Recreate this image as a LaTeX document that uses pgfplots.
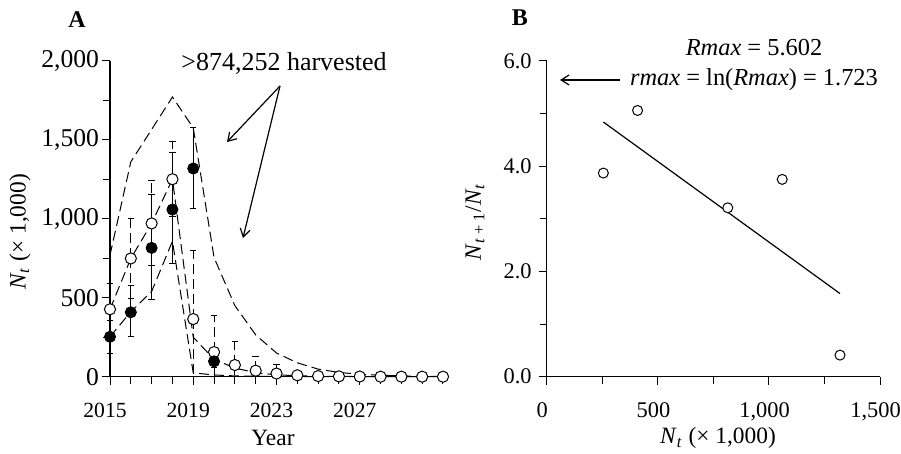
\documentclass[border=0pt]{standalone}
\usepackage{fontspec}
\setmainfont{Liberation Serif}
\usepackage{pgfplots}
\usepackage{pgfplotstable}
\pgfplotsset{compat=1.18}
\usetikzlibrary{arrows.meta}

% open circles: year, value, +err, -err
\pgfplotstableread{
year val ep em
2015 427 165 165
2016 749 253 253
2017 971 269 269
2018 1251 236 236
2019 365 437 365
2020 156 234 156
2021 74 150 74
2022 38 89 38
2023 20 60 20
2024 9 25 9
2025 4 0 0
2026 2 0 0
2027 1 0 0
2028 0 0 0
2029 0 0 0
2030 0 0 0
2031 0 0 0
}\opendata

% filled circles
\pgfplotstableread{
year val ep em
2015 253 100 103
2016 408 172 155
2017 816 340 330
2018 1059 361 339
2019 1319 257 251
2020 97 40 40
}\filldata

% dashed model curves
\pgfplotstableread{
year up mid low
2015 770 427 253
2016 1361 749 411
2017 1566 971 540
2018 1772 1251 858
2019 1576 250 24
2020 755 110 11
2021 450 55 5
2022 265 25 3
2023 150 12 2
2024 88 6 1
2025 48 3 0
2026 27 2 0
2027 15 1 0
2028 9 0 0
2029 5 0 0
2030 3 0 0
2031 2 0 0
}\model

\newcommand\lab{\fontsize{11.7}{14}\selectfont}

\begin{document}
\fontsize{13}{15}\selectfont
\begin{tikzpicture}
\useasboundingbox (0pt,0pt) rectangle (450.5pt,227pt);
\pgfplotsset{
  every axis/.append style={
    scale only axis, axis x line*=bottom, axis y line*=left,
    tick align=outside, major tick length=4pt, minor tick length=3.5pt,
    clip=false, tick style={black, line width=0.5pt},
    axis line style={line width=0.6pt},
    /pgf/number format/assume math mode=true,
  },
  mdl/.style={no marks, line width=0.5pt, dash pattern=on 5pt off 2.5pt},
}

% panel A
\begin{axis}[
  at={(55pt,38.65pt)}, anchor=south west,
  width=166.5pt, height=157.85pt,
  xmin=2015, xmax=2031, ymin=0, ymax=2000,
  xtick={2015,2019,2023,2027}, minor xtick={2016,...,2031},
  ytick={0,500,1000,1500,2000}, minor ytick={250,750,1250,1750},
  xticklabel style={font=\fontsize{10.8}{13}\selectfont, yshift=-4.5pt, xshift=-2.5pt,
    /pgf/number format/1000 sep={}},
  yticklabel style={font=\fontsize{12.8}{15}\selectfont, xshift=3pt,
    /pgf/number format/1000 sep={,}},
]
\addplot[mdl] table[x=year,y=up] {\model};
\addplot[mdl] table[x=year,y=mid] {\model};
\addplot[mdl] table[x=year,y=low] {\model};
\addplot[only marks, mark=*, mark size=2.8pt,
  mark options={fill=white, draw=black, line width=0.5pt},
  error bars/.cd, y dir=both, y explicit,
  error bar style={line width=0.5pt, dash pattern=on 5pt off 2.5pt},
  error mark options={rotate=90, mark size=1.6pt, solid, line width=0.5pt}]
  table[x=year, y=val, y error plus=ep, y error minus=em] {\opendata};
\addplot[only marks, mark=*, mark size=2.8pt,
  mark options={fill=black, draw=black},
  error bars/.cd, y dir=both, y explicit,
  error bar style={line width=0.5pt, solid},
  error mark options={rotate=90, mark size=1.6pt, line width=0.5pt}]
  table[x=year, y=val, y error plus=ep, y error minus=em] {\filldata};
\end{axis}

% panel B
\begin{axis}[
  at={(273.35pt,38.65pt)}, anchor=south west,
  width=166.65pt, height=157.85pt,
  xmin=0, xmax=1500, ymin=0, ymax=6,
  xtick={0,500,1000,1500}, minor xtick={250,750,1250},
  ytick={0,2,4,6}, minor ytick={1,3,5},
  tick label style={font=\fontsize{11.2}{13}\selectfont},
  xticklabel style={yshift=-4.5pt, xshift=-2.2pt, /pgf/number format/1000 sep={,}},
  yticklabel style={xshift=1pt, /pgf/number format/.cd, fixed, fixed zerofill, precision=1},
]
\addplot[only marks, mark=*, mark size=2.5pt,
  mark options={fill=white, draw=black, line width=0.5pt}]
  coordinates {(255,3.87) (409,5.06) (815,3.21) (1060,3.75) (1320,0.41)};
\addplot[no marks, line width=0.6pt] coordinates {(255,4.84) (1320,1.58)};
\end{axis}

% panel letters and axis titles
\node at (38.5pt,217pt) {\fontsize{12}{14}\selectfont\bfseries A};
\node at (260pt,218pt) {\fontsize{12}{14}\selectfont\bfseries B};
\node[rotate=90] at (10pt,111pt) {\lab\textit{N}\textsubscript{\textit{t}} (× 1,000)};
\node at (136.5pt,8pt) {\lab Year};
\node[rotate=90] at (237.5pt,116pt) {\lab\textit{N}\textsubscript{\textit{t} + 1}/\textit{N}\textsubscript{\textit{t}}};
\node at (359pt,8pt) {\lab\textit{N}\textsubscript{\textit{t}} (× 1,000)};

% annotations
\node at (142pt,195.5pt) {>874,252 harvested};
\draw[-{Straight Barb[length=4pt,width=5pt]}, line width=0.6pt] (140pt,184pt) -- (113.5pt,156pt);
\draw[-{Straight Barb[length=4pt,width=5pt]}, line width=0.6pt] (140pt,184pt) -- (121.5pt,108pt);
\node at (377pt,203pt) {\fontsize{12.2}{14}\selectfont\textit{Rmax} = 5.602};
\node at (377pt,187pt) {\fontsize{12.2}{14}\selectfont\textit{rmax} = ln(\textit{Rmax}) = 1.723};
\draw[-{Straight Barb[length=4pt,width=5pt]}, line width=0.6pt] (310pt,187pt) -- (280pt,187pt);
\end{tikzpicture}
\end{document}
